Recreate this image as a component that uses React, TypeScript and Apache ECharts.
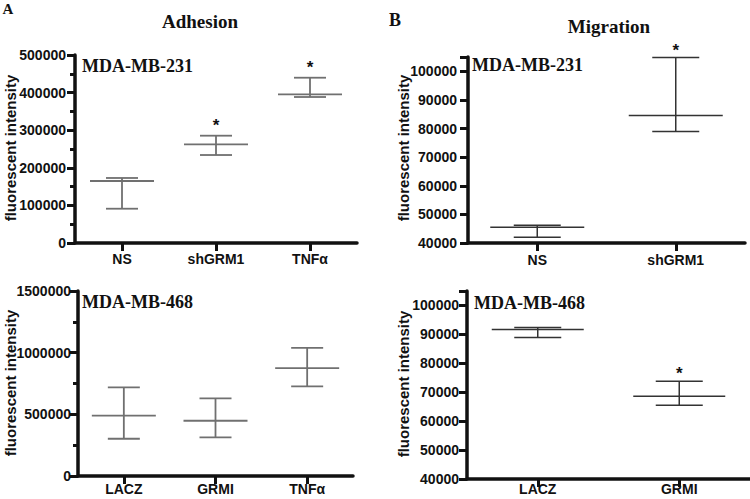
import React, { useEffect, useRef } from "react";
import * as echarts from "echarts";

// ---- Data ----
const adh231Cats = ["NS", "shGRM1", "TNFα"];
const adh231Mean = [164900, 262500, 395500];
const adh231Low = [91200, 234000, 388300];
const adh231High = [172900, 285400, 439600];
const adh231Sig = [0, 1, 1];
const adh231Ticks = [0, 100000, 200000, 300000, 400000, 500000];

const adh468Cats = ["LACZ", "GRMI", "TNFα"];
const adh468Mean = [490000, 448000, 874000];
const adh468Low = [302000, 313000, 726000];
const adh468High = [718000, 629000, 1039000];
const adh468Sig = [0, 0, 0];
const adh468Ticks = [0, 500000, 1000000, 1500000];

const mig231Cats = ["NS", "shGRM1"];
const mig231Mean = [45500, 84600];
const mig231Low = [42000, 79000];
const mig231High = [46200, 104800];
const mig231Sig = [0, 1];

const mig468Cats = ["LACZ", "GRMI"];
const mig468Mean = [91700, 68650];
const mig468Low = [88900, 65540];
const mig468High = [92400, 73830];
const mig468Sig = [0, 1];
const migTicks = [40000, 50000, 60000, 70000, 80000, 90000, 100000];

const SANS = "Arial, 'Liberation Sans', sans-serif";
const SERIF = "'Liberation Serif', 'Times New Roman', serif";
const INK = "#111";

function rows(mean: number[], low: number[], high: number[], sig: number[]) {
  return mean.map((m, i) => [i, m, low[i], high[i], sig[i]]);
}

function makeRender(meanHalf: number, capHalf: number, color: string, lw: number, starGap: number) {
  return (params: any, api: any) => {
    const x = api.value(0);
    const pm = api.coord([x, api.value(1)]);
    const pl = api.coord([x, api.value(2)]);
    const ph = api.coord([x, api.value(3)]);
    const sig = api.value(4);
    const style = { stroke: color, lineWidth: lw, fill: null };
    const children: any[] = [
      { type: "line", shape: { x1: pm[0] - meanHalf, y1: pm[1], x2: pm[0] + meanHalf, y2: pm[1] }, style },
      { type: "line", shape: { x1: pm[0], y1: pl[1], x2: pm[0], y2: ph[1] }, style },
      { type: "line", shape: { x1: pm[0] - capHalf, y1: pl[1], x2: pm[0] + capHalf, y2: pl[1] }, style },
      { type: "line", shape: { x1: pm[0] - capHalf, y1: ph[1], x2: pm[0] + capHalf, y2: ph[1] }, style },
    ];
    if (sig) {
      children.push({
        type: "text",
        style: {
          text: "*", x: ph[0], y: ph[1] - starGap, align: "center", verticalAlign: "middle",
          font: `bold 17px ${SANS}`, fill: INK,
        },
      });
    }
    return { type: "group", children };
  };
}

const plain = (v: number) => String(v);

function yAxisCfg(grid: number, min: number, max: number, interval: number, ticks: number[], margin: number, minor: boolean) {
  return {
    type: "value", gridIndex: grid, min, max, interval,
    splitLine: { show: false },
    axisLine: { show: true, lineStyle: { color: INK, width: 3.5 } },
    axisTick: { show: true, length: 8, lineStyle: { color: INK, width: 3 } },
    minorTick: { show: minor, splitNumber: 2, length: 5, lineStyle: { color: INK, width: 3 } },
    axisLabel: {
      customValues: ticks, formatter: plain, margin, color: INK, fontFamily: SANS, fontWeight: "bold", fontSize: 14,
    },
  };
}

function xAxisCfg(grid: number, cats: string[], margin: number) {
  return {
    type: "category", gridIndex: grid, data: cats, boundaryGap: true,
    axisLine: { show: true, lineStyle: { color: INK, width: 3.5 } },
    axisTick: { show: true, alignWithLabel: true, length: 8, lineStyle: { color: INK, width: 3 } },
    axisLabel: { margin, color: INK, fontFamily: SANS, fontWeight: "bold", fontSize: 14 },
  };
}

export default function App() {
  const ref = useRef<HTMLDivElement>(null);
  useEffect(() => {
    if (!ref.current) return;
    const chart = echarts.init(ref.current, undefined, { renderer: "svg" });
    const txt = (text: string, x: number, y: number, font: string, rot = 0) => ({
      type: "text", x, y, rotation: rot,
      style: { text, x: 0, y: 0, align: "center", verticalAlign: "middle", font, fill: INK },
    });
    chart.setOption({
      animation: false,
      backgroundColor: "#fff",
      grid: [
        { left: 75, top: 55, width: 282, height: 188 },
        { left: 468, top: 57, width: 277, height: 186 },
        { left: 78, top: 291, width: 275, height: 185 },
        { left: 467, top: 291, width: 283, height: 188 },
      ],
      xAxis: [
        xAxisCfg(0, adh231Cats, 9),
        xAxisCfg(1, mig231Cats, 10),
        xAxisCfg(2, adh468Cats, 6),
        xAxisCfg(3, mig468Cats, 3),
      ],
      yAxis: [
        yAxisCfg(0, 0, 500000, 100000, adh231Ticks, 9, true),
        yAxisCfg(1, 40000, 105000, 10000, migTicks, 11, false),
        yAxisCfg(2, 0, 1500000, 500000, adh468Ticks, 7, true),
        yAxisCfg(3, 40000, 105000, 10000, migTicks, 8, false),
      ],
      series: [
        {
          type: "custom", xAxisIndex: 0, yAxisIndex: 0, clip: false,
          data: rows(adh231Mean, adh231Low, adh231High, adh231Sig),
          encode: { x: 0, y: [1, 2, 3] },
          renderItem: makeRender(32, 16, "#707070", 1.8, 10),
        },
        {
          type: "custom", xAxisIndex: 1, yAxisIndex: 1, clip: false,
          data: rows(mig231Mean, mig231Low, mig231High, mig231Sig),
          encode: { x: 0, y: [1, 2, 3] },
          renderItem: makeRender(47, 23.5, "#333", 1.5, 7),
        },
        {
          type: "custom", xAxisIndex: 2, yAxisIndex: 2, clip: false,
          data: rows(adh468Mean, adh468Low, adh468High, adh468Sig),
          encode: { x: 0, y: [1, 2, 3] },
          renderItem: makeRender(32, 16, "#707070", 1.8, 10),
        },
        {
          type: "custom", xAxisIndex: 3, yAxisIndex: 3, clip: false,
          data: rows(mig468Mean, mig468Low, mig468High, mig468Sig),
          encode: { x: 0, y: [1, 2, 3] },
          renderItem: makeRender(46, 23.5, "#333", 1.5, 8),
        },
      ],
      graphic: [
        txt("A", 8, 9, `bold 15px ${SERIF}`),
        txt("B", 395, 20, `bold 18px ${SERIF}`),
        txt("Adhesion", 200, 21, `bold 19px ${SERIF}`),
        txt("Migration", 609, 26, `bold 19px ${SERIF}`),
        { type: "text", left: 82, top: 57, style: { text: "MDA-MB-231", font: `bold 18px ${SERIF}`, fill: INK } },
        { type: "text", left: 472, top: 56, style: { text: "MDA-MB-231", font: `bold 18px ${SERIF}`, fill: INK } },
        { type: "text", left: 82, top: 293, style: { text: "MDA-MB-468", font: `bold 18px ${SERIF}`, fill: INK } },
        { type: "text", left: 474, top: 294, style: { text: "MDA-MB-468", font: `bold 18px ${SERIF}`, fill: INK } },
        txt("fluorescent intensity", 10, 148, `bold 15px ${SANS}`, Math.PI / 2),
        txt("fluorescent intensity", 403, 148, `bold 15px ${SANS}`, Math.PI / 2),
        txt("fluorescent intensity", 10, 383, `bold 15px ${SANS}`, Math.PI / 2),
        txt("fluorescent intensity", 403, 384, `bold 15px ${SANS}`, Math.PI / 2),
      ],
    });
    return () => chart.dispose();
  }, []);
  return <div ref={ref} style={{ width: 750, height: 499, position: "absolute", left: 0, top: 0 }} />;
}
